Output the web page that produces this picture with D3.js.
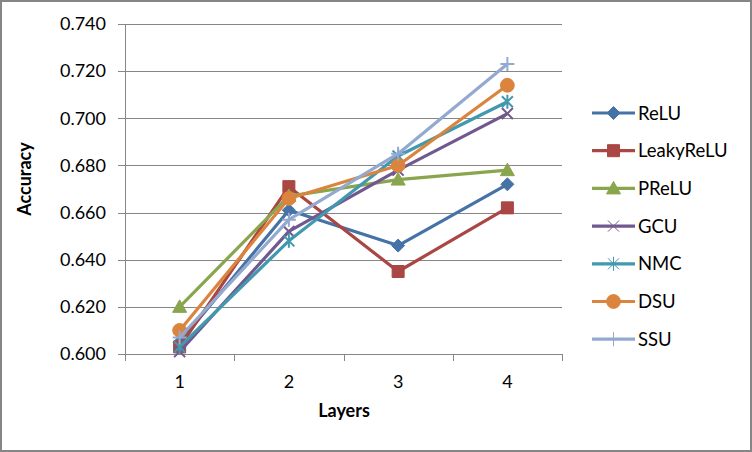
<!doctype html>
<html>
<head>
    <style>
        body { margin: 0; background: #fff; }
        text { font-family: Lato, "Open Sans", sans-serif; fill: #000; }
        .axis path, .axis line { stroke: #868686; stroke-width: 1px; shape-rendering: crispEdges; }
        .axis text { font-size: 18px; }
        .grid line { stroke: #868686; shape-rendering: crispEdges; }
        .title { font-size: 18px; font-weight: bold; text-anchor: middle; }
        .series path.line { fill: none; stroke-width: 3.2px; stroke-linejoin: round; }
        .legend text { font-size: 18.5px; }
    </style>
    <script src="https://d3js.org/d3.v7.min.js"></script>
</head>
<body>
<script>
    const layers = ["1", "2", "3", "4"]
    const yTicks = [0.60, 0.62, 0.64, 0.66, 0.68, 0.70, 0.72, 0.74]

    const seriesNames = ["ReLU", "LeakyReLU", "PReLU", "GCU", "NMC", "DSU", "SSU"]
    const seriesColors = ["#4572A7", "#AA4643", "#89A54E", "#71588F", "#4198AF", "#DB843D", "#93A9CF"]
    const seriesMarkers = ["diamond", "square", "triangle", "x", "asterisk", "circle", "plus"]

    const relu = [0.605, 0.661, 0.646, 0.672]
    const leakyRelu = [0.603, 0.671, 0.635, 0.662]
    const prelu = [0.620, 0.667, 0.674, 0.678]
    const gcu = [0.601, 0.652, 0.678, 0.702]
    const nmc = [0.603, 0.648, 0.684, 0.707]
    const dsu = [0.610, 0.666, 0.680, 0.714]
    const ssu = [0.607, 0.657, 0.685, 0.723]
    const allValues = [relu, leakyRelu, prelu, gcu, nmc, dsu, ssu]

    const W = 752, H = 452
    const plot = { left: 125, right: 562, top: 24, bottom: 354 }

    const svg = d3.select("body").append("svg")
        .attr("width", W)
        .attr("height", H)

    // outer border
    svg.append("rect")
        .attr("x", 1).attr("y", 1)
        .attr("width", W - 2).attr("height", H - 2)
        .attr("fill", "#fff")
        .attr("stroke", "#868686")
        .attr("stroke-width", 2)

    const x = d3.scaleBand().domain(layers).range([plot.left, plot.right])
    const y = d3.scaleLinear().domain([0.60, 0.74]).range([plot.bottom, plot.top])

    // horizontal gridlines
    svg.append("g").attr("class", "grid")
        .selectAll("line")
        .data(yTicks.slice(1))
        .enter()
        .append("line")
        .attr("x1", plot.left).attr("x2", plot.right)
        .attr("y1", d => Math.round(y(d)) + 0.5)
        .attr("y2", d => Math.round(y(d)) + 0.5)

    // y axis
    const yAxis = svg.append("g").attr("class", "axis")
        .attr("transform", `translate(${plot.left},0)`)
        .call(d3.axisLeft(y).tickValues(yTicks).tickFormat(d3.format(".3f")).tickSize(7).tickPadding(12))
    yAxis.select(".domain").attr("d", `M0.5,${plot.top}V${plot.bottom}`)

    // x axis: ticks at category boundaries
    const xAxis = svg.append("g").attr("class", "axis")
        .attr("transform", `translate(0,${plot.bottom})`)
    xAxis.append("line")
        .attr("x1", plot.left).attr("x2", plot.right)
        .attr("y1", 0.5).attr("y2", 0.5)
    const bounds = layers.map(d => x(d)).concat([plot.right])
    xAxis.selectAll(".btick")
        .data(bounds)
        .enter()
        .append("line")
        .attr("class", "btick")
        .attr("x1", d => Math.round(d) + 0.5).attr("x2", d => Math.round(d) + 0.5)
        .attr("y1", 0).attr("y2", 7)
    xAxis.selectAll(".lbl")
        .data(layers)
        .enter()
        .append("text")
        .attr("class", "lbl")
        .attr("x", d => x(d) + x.bandwidth() / 2)
        .attr("y", 34)
        .attr("text-anchor", "middle")
        .text(d => d)

    // axis titles
    svg.append("text").attr("class", "title")
        .attr("x", 344).attr("y", 417)
        .text("Layers")
    svg.append("text").attr("class", "title")
        .attr("transform", "translate(31,179) rotate(-90)")
        .text("Accuracy")

    const markerPath = (type) => {
        switch (type) {
            case "diamond": return "M0,-6.5L6.5,0L0,6.5L-6.5,0Z"
            case "square": return "M-6,-6H6V6H-6Z"
            case "triangle": return "M0,-7L7,5.5H-7Z"
            case "circle": return d3.symbol(d3.symbolCircle, 150)()
            case "x": return "M-5.5,-5.5L5.5,5.5M-5.5,5.5L5.5,-5.5"
            case "asterisk": return "M-5.5,-5.5L5.5,5.5M-5.5,5.5L5.5,-5.5M0,-7V7"
            case "plus": return "M-7,0H7M0,-7V7"
        }
    }
    const isOpen = t => t === "x" || t === "asterisk" || t === "plus"

    const line = d3.line()
        .x((d, i) => x(layers[i]) + x.bandwidth() / 2)
        .y(d => y(d))

    const series = svg.append("g")
        .selectAll("g")
        .data(allValues)
        .enter()
        .append("g")
        .attr("class", "series")

    series.append("path")
        .attr("class", "line")
        .attr("d", d => line(d))
        .attr("stroke", (d, i) => seriesColors[i])

    series.each(function (vals, si) {
        d3.select(this).selectAll(".mk")
            .data(vals)
            .enter()
            .append("path")
            .attr("class", "mk")
            .attr("transform", (d, i) => `translate(${x(layers[i]) + x.bandwidth() / 2},${y(d)})`)
            .attr("d", markerPath(seriesMarkers[si]))
            .attr("fill", isOpen(seriesMarkers[si]) ? "none" : seriesColors[si])
            .attr("stroke", seriesColors[si])
            .attr("stroke-width", isOpen(seriesMarkers[si]) ? 2 : 1)
    })

    // legend
    const legend = svg.append("g").attr("class", "legend")
        .selectAll("g")
        .data(seriesNames)
        .enter()
        .append("g")
        .attr("transform", (d, i) => `translate(592,${113 + i * 37.7})`)

    legend.append("line")
        .attr("x1", 0).attr("x2", 43)
        .attr("y1", 0).attr("y2", 0)
        .attr("stroke", (d, i) => seriesColors[i])
        .attr("stroke-width", 3.2)
    legend.append("path")
        .attr("transform", "translate(21.5,0)")
        .attr("d", (d, i) => markerPath(seriesMarkers[i]))
        .attr("fill", (d, i) => isOpen(seriesMarkers[i]) ? "none" : seriesColors[i])
        .attr("stroke", (d, i) => seriesColors[i])
        .attr("stroke-width", 1)
    legend.append("text")
        .attr("x", 46).attr("y", 6.5)
        .text(d => d)
</script>
</body>
</html>
